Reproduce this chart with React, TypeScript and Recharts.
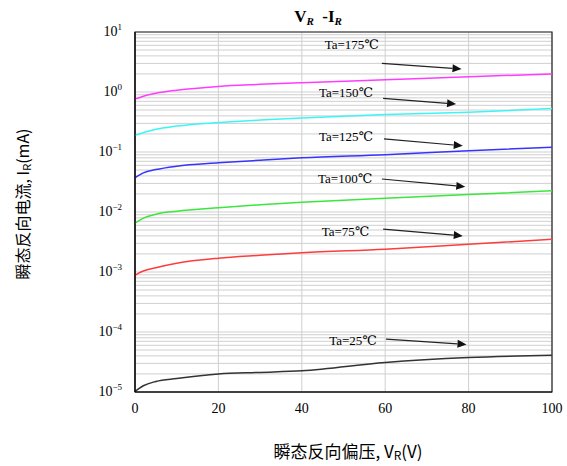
import {
  CartesianGrid,
  Line,
  LineChart,
  ReferenceArea,
  ReferenceDot,
  ReferenceLine,
  XAxis,
  YAxis
} from 'recharts';

// 反向偏压 V_R (V)
const voltages = [0, 1, 2, 5, 10, 20, 30, 40, 60, 80, 100];

// 反向电流 I_R (mA) for each Ta
const ir175 = [0.76, 0.8, 0.85, 0.95, 1.07, 1.24, 1.34, 1.43, 1.6, 1.8, 2.0];
const ir150 = [0.19, 0.2, 0.21, 0.24, 0.27, 0.31, 0.34, 0.37, 0.42, 0.46, 0.53];
const ir125 = [0.037, 0.041, 0.045, 0.051, 0.058, 0.066, 0.073, 0.08, 0.09, 0.105, 0.12];
const ir100 = [0.0065, 0.0072, 0.0079, 0.0092, 0.0103, 0.0118, 0.0132, 0.0145, 0.017, 0.0195, 0.0227];
const ir75 = [0.00088, 0.00097, 0.00104, 0.00118, 0.0014, 0.0017, 0.0019, 0.0021, 0.0024, 0.0029, 0.0035];
const ir25 = [1.02e-5, 1.15e-5, 1.27e-5, 1.5e-5, 1.68e-5, 2.0e-5, 2.12e-5, 2.25e-5, 3.1e-5, 3.75e-5, 4.1e-5];

const seriesNames = ['175', '150', '125', '100', '75', '25'];
const seriesValues = [ir175, ir150, ir125, ir100, ir75, ir25];
const seriesColors = ['#ff3cff', '#3cf5f5', '#3535ff', '#3ce63c', '#ff3c3c', '#333333'];

const xTicks = [0, 20, 40, 60, 80, 100];
const decades = [-5, -4, -3, -2, -1, 0, 1];

// annotation labels & arrows (data units)
const noteLabels = ['Ta=175℃', 'Ta=150℃', 'Ta=125℃', 'Ta=100℃', 'Ta=75℃', 'Ta=25℃'];
const noteTextX = [52, 50.6, 50.6, 50.4, 50.5, 52.3];
const noteTextY = [6.07, 0.97, 0.18, 0.035, 0.0047, 7.2e-5];
const arrowFromX = [59.2, 59.5, 59.7, 59.2, 59.5, 60.2];
const arrowFromY = [3.0, 0.785, 0.165, 0.0355, 0.0052, 7.6e-5];
const arrowToX = [78.3, 77, 78.6, 79.2, 78.6, 79.5];
const arrowToY = [2.42, 0.63, 0.127, 0.0264, 0.004, 6.2e-5];

const yTicks: number[] = [];
decades.slice(0, -1).forEach(e => {
  for (let m = 1; m <= 9; m++) yTicks.push(Number((m * Math.pow(10, e)).toPrecision(3)));
});
yTicks.push(10);

const chartData = voltages.map((v, i) => {
  const row: Record<string, number> = { v };
  seriesNames.forEach((n, k) => {
    row[`t${n}`] = seriesValues[k][i];
  });
  return row;
});

const tickFont = '"Liberation Serif", "DejaVu Serif", serif';
const cjkFont = '"Noto Sans CJK SC", "Noto Sans", sans-serif';

const YTick = props => {
  const { x, y, payload } = props;
  const lg = Math.log10(payload.value);
  if (Math.abs(lg - Math.round(lg)) > 1e-6) return null;
  const e = Math.round(lg);
  const sup = e < 0 ? `−${-e}` : `${e}`;
  return (
    <text x={x - 5} y={y + 4} textAnchor="end" fontSize={14} fontFamily={tickFont} fill="#000">
      10
      <tspan dy={-6} fontSize={9}>
        {sup}
      </tspan>
    </text>
  );
};

const XTick = props => {
  const { x, y, payload } = props;
  return (
    <text x={x} y={y + 13} textAnchor="middle" fontSize={14} fontFamily={tickFont} fill="#000">
      {payload.value}
    </text>
  );
};

const Arrow = props => {
  const { x1, y1, x2, y2 } = props;
  const ang = Math.atan2(y2 - y1, x2 - x1);
  const len = 9;
  const w = 4;
  const bx = x2 - len * Math.cos(ang);
  const by = y2 - len * Math.sin(ang);
  const px = -Math.sin(ang) * w;
  const py = Math.cos(ang) * w;
  return (
    <g>
      <line x1={x1} y1={y1} x2={bx} y2={by} stroke="#222" strokeWidth={1.2} />
      <polygon points={`${x2},${y2} ${bx + px},${by + py} ${bx - px},${by - py}`} fill="#111" />
    </g>
  );
};

const noteShape = (label: string) => props => (
  <text
    x={props.cx}
    y={props.cy + 4}
    textAnchor="middle"
    fontSize={13}
    fontFamily={tickFont}
    fill="#000"
  >
    {label}
  </text>
);

export default function App() {
  return (
    <div style={{ position: 'absolute', left: 0, top: 0, width: 567, height: 466, background: '#fff' }}>
      <svg width={567} height={466} style={{ position: 'absolute', left: 0, top: 0 }}>
        <text x={318} y={22} textAnchor="middle" fontFamily={tickFont} fontWeight="bold" fontSize={17}>
          V
          <tspan fontSize={11} fontStyle="italic" dy={3}>
            R
          </tspan>
          <tspan dy={-3}>{'\u00a0\u00a0-I'}</tspan>
          <tspan fontSize={11} fontStyle="italic" dy={3}>
            R
          </tspan>
        </text>
        <text
          transform="translate(29,204) rotate(-90)"
          textAnchor="middle"
          fontFamily={cjkFont}
          fontSize={16}
          fill="#000"
        >
          瞬态反向电流, I
          <tspan fontSize={11} dy={2}>
            R
          </tspan>
          <tspan dy={-2}>(mA)</tspan>
        </text>
        <text x={348} y={458} textAnchor="middle" fontFamily={cjkFont} fontSize={17} fill="#000">
          瞬态反向偏压, V
          <tspan fontSize={12} dy={2}>
            R
          </tspan>
          <tspan dy={-2}>(V)</tspan>
        </text>
      </svg>
      <div style={{ position: 'absolute', left: 0, top: 0 }}>
        <LineChart
          width={567}
          height={466}
          data={chartData}
          margin={{ top: 32, right: 15, left: 0, bottom: 0 }}
        >
          <CartesianGrid stroke="#cfcfcf" strokeWidth={1} />
          <XAxis
            dataKey="v"
            type="number"
            domain={[0, 100]}
            ticks={xTicks}
            tickLine={false}
            axisLine={{ stroke: '#000', strokeWidth: 1.2 }}
            tick={<XTick />}
            height={74}
            interval={0}
          />
          <YAxis
            type="number"
            scale="log"
            domain={[1e-5, 10]}
            allowDataOverflow
            ticks={yTicks}
            tickLine={false}
            axisLine={{ stroke: '#000', strokeWidth: 1.2 }}
            tick={<YTick />}
            width={135}
            interval={0}
          />
          <ReferenceArea
            x1={0}
            x2={100}
            y1={1e-5}
            y2={10}
            fill="none"
            stroke="#222"
            strokeWidth={1.2}
            ifOverflow="extendDomain"
          />
          {seriesNames.map((n, k) => (
            <Line
              key={n}
              dataKey={`t${n}`}
              type="monotone"
              stroke={seriesColors[k]}
              strokeWidth={1.5}
              dot={false}
              isAnimationActive={false}
            />
          ))}
          {noteLabels.map((label, i) => (
            <ReferenceLine
              key={`a${i}`}
              segment={[
                { x: arrowFromX[i], y: arrowFromY[i] },
                { x: arrowToX[i], y: arrowToY[i] }
              ]}
              shape={<Arrow />}
            />
          ))}
          {noteLabels.map((label, i) => (
            <ReferenceDot
              key={`t${i}`}
              x={noteTextX[i]}
              y={noteTextY[i]}
              r={0}
              shape={noteShape(label)}
            />
          ))}
        </LineChart>
      </div>
    </div>
  );
}
